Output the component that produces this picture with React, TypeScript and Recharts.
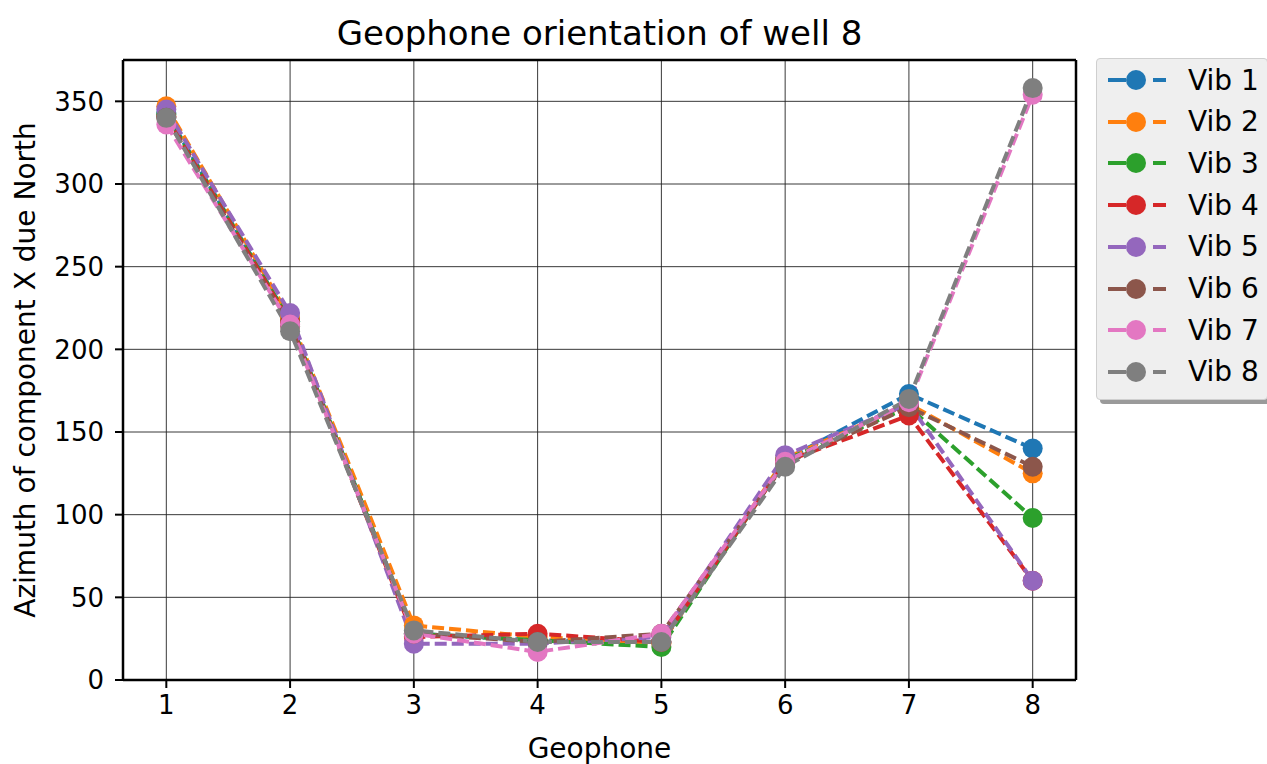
import React from "react";
import { LineChart, Line, XAxis, YAxis, CartesianGrid, ReferenceLine } from "recharts";

const GEOPHONES = [1, 2, 3, 4, 5, 6, 7, 8];
const Y_TICKS = [0, 50, 100, 150, 200, 250, 300, 350];

const VIB_NAMES = ["Vib 1", "Vib 2", "Vib 3", "Vib 4", "Vib 5", "Vib 6", "Vib 7", "Vib 8"];
const VIB_COLORS = ["#1f77b4", "#ff7f0e", "#2ca02c", "#d62728", "#9467bd", "#8c564b", "#e377c2", "#7f7f7f"];

const VIB1 = [343, 217, 28, 24, 23, 133, 173, 140];
const VIB2 = [347, 219, 33, 26, 22, 134, 167, 125];
const VIB3 = [342, 217, 28, 24, 20, 133, 165, 98];
const VIB4 = [341, 216, 26, 28, 23, 132, 160, 60];
const VIB5 = [345, 222, 22, 22, 26, 136, 167, 60];
const VIB6 = [340, 214, 28, 23, 28, 131, 165, 129];
const VIB7 = [336, 215, 28, 17, 28, 132, 168, 354];
const VIB8 = [340, 211, 30, 23, 23, 129, 170, 358];

const SERIES = [VIB1, VIB2, VIB3, VIB4, VIB5, VIB6, VIB7, VIB8];

const data = GEOPHONES.map((g, i) => {
  const row: Record<string, number> = { g };
  SERIES.forEach((s, k) => {
    row["v" + (k + 1)] = s[i];
  });
  return row;
});

const FONT = "'DejaVu Sans', sans-serif";
const tickStyle = { fontSize: 26, fill: "#000", fontFamily: FONT };

function LegendBox() {
  return (
    <div
      style={{
        position: "absolute",
        left: 1096,
        top: 58,
        width: 170,
        height: 340,
        background: "#efefef",
        border: "1px solid #cfcfcf",
        borderRadius: 4,
        boxShadow: "4px 4px 0 #9a9a9a",
        fontFamily: FONT,
      }}
    >
      {VIB_NAMES.map((name, i) => (
        <div
          key={name}
          style={{ position: "absolute", left: 0, top: 4 + i * 41.7, height: 34, display: "flex", alignItems: "center" }}
        >
          <svg width={80} height={34} style={{ display: "block" }}>
            <line x1={11} y1={17} x2={29} y2={17} stroke={VIB_COLORS[i]} strokeWidth={4} />
            <line x1={56} y1={17} x2={69} y2={17} stroke={VIB_COLORS[i]} strokeWidth={4} />
            <circle cx={39} cy={17} r={10} fill={VIB_COLORS[i]} />
          </svg>
          <span style={{ fontSize: 28, marginLeft: 11, color: "#000" }}>{name}</span>
        </div>
      ))}
    </div>
  );
}

export default function App() {
  return (
    <div style={{ position: "absolute", left: 0, top: 0, width: 1267, height: 764, background: "#fff" }}>
      <LineChart
        width={1267}
        height={764}
        data={data}
        margin={{ top: 60, right: 191, bottom: 34, left: 53 }}
      >
        <CartesianGrid stroke="#222" strokeWidth={0.9} />
        <XAxis
          dataKey="g"
          type="number"
          domain={[0.65, 8.35]}
          ticks={GEOPHONES}
          allowDataOverflow
          height={50}
          tick={tickStyle}
          tickSize={8}
          tickMargin={8}
          tickLine={{ stroke: "#000", strokeWidth: 2 }}
          axisLine={{ stroke: "#000", strokeWidth: 2.5 }}
        />
        <YAxis
          type="number"
          domain={[0, 375]}
          ticks={Y_TICKS}
          allowDataOverflow
          width={70}
          tick={tickStyle}
          tickSize={8}
          tickMargin={11}
          tickLine={{ stroke: "#000", strokeWidth: 2 }}
          axisLine={{ stroke: "#000", strokeWidth: 2.5 }}
        />
        <ReferenceLine y={375} stroke="#000" strokeWidth={2.5} />
        <ReferenceLine x={8.35} stroke="#000" strokeWidth={2.5} />
        {VIB_NAMES.map((name, k) => (
          <Line
            key={name}
            dataKey={"v" + (k + 1)}
            name={name}
            type="linear"
            stroke={VIB_COLORS[k]}
            strokeWidth={4}
            strokeDasharray="12 5"
            dot={{ r: 10, fill: VIB_COLORS[k], stroke: "none", strokeWidth: 0, strokeDasharray: "0" }}
            activeDot={false}
            isAnimationActive={false}
          />
        ))}
      </LineChart>

      <div
        style={{
          position: "absolute",
          left: 123,
          width: 953,
          top: 12,
          textAlign: "center",
          fontFamily: FONT,
          fontSize: 34,
          lineHeight: "42px",
          color: "#000",
        }}
      >
        Geophone orientation of well 8
      </div>
      <div
        style={{
          position: "absolute",
          left: 123,
          width: 953,
          top: 732,
          textAlign: "center",
          fontFamily: FONT,
          fontSize: 28,
          lineHeight: "34px",
          color: "#000",
        }}
      >
        Geophone
      </div>
      <div
        style={{
          position: "absolute",
          left: 26,
          top: 370,
          transform: "translate(-50%, -50%) rotate(-90deg)",
          whiteSpace: "nowrap",
          fontFamily: FONT,
          fontSize: 28,
          lineHeight: "34px",
          color: "#000",
        }}
      >
        Azimuth of component X due North
      </div>
      <LegendBox />
    </div>
  );
}
